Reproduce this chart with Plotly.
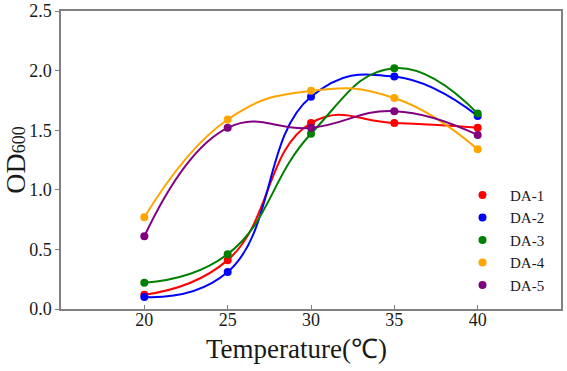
import plotly.graph_objects as go

temps = [20, 25, 30, 35, 40]
names = ["DA-1", "DA-2", "DA-3", "DA-4", "DA-5"]
da1 = [0.12, 0.41, 1.56, 1.56, 1.52]
da2 = [0.10, 0.31, 1.78, 1.95, 1.62]
da3 = [0.22, 0.46, 1.47, 2.02, 1.64]
da4 = [0.77, 1.59, 1.83, 1.77, 1.34]
da5 = [0.61, 1.52, 1.52, 1.66, 1.46]
series = [da1, da2, da3, da4, da5]
colors = ["#ff0000", "#0000ff", "#008000", "#ffa500", "#800080"]

FONT = "Liberation Serif"

fig = go.Figure()
for name, ys, c in zip(names, series, colors):
    fig.add_trace(go.Scatter(
        x=temps, y=ys, mode="lines", showlegend=False,
        line=dict(color=c, width=2, shape="spline", smoothing=1.3),
        hoverinfo="skip"))
for name, ys, c in zip(names, series, colors):
    fig.add_trace(go.Scatter(
        x=temps, y=ys, mode="markers", name=name,
        marker=dict(color=c, size=8)))

axis_common = dict(
    showline=True, linecolor="#808080", linewidth=1.5, mirror=True,
    showgrid=False, zeroline=False, automargin=False,
    tickfont=dict(family=FONT, size=18, color="#1a1a1a"),
    tickcolor="#808080", ticklen=4, tickwidth=1,
)

fig.update_layout(
    width=567, height=371,
    margin=dict(l=61, r=6, t=11, b=62, autoexpand=False),
    plot_bgcolor="white", paper_bgcolor="white",
    font=dict(family=FONT, color="#1a1a1a"),
    xaxis=dict(
        range=[15, 45], tickvals=temps, ticks="inside", ticklabelstandoff=-6,
        **axis_common),
    yaxis=dict(
        range=[0, 2.5], tickvals=[0, 0.5, 1.0, 1.5, 2.0, 2.5], tickformat=".1f", ticks="outside",
        title=dict(text='OD<span style="font-size:18px">600</span>',
                   font=dict(family=FONT, size=28, color="#1a1a1a"), standoff=6),
        **axis_common),
    legend=dict(
        x=0.788, y=0.437, xanchor="left", yanchor="top",
        bgcolor="rgba(0,0,0,0)", borderwidth=0,
        font=dict(family=FONT, size=15, color="#1a1a1a"),
        itemwidth=45,
    ),
    annotations=[dict(
        text="Temperature(℃)", xref="paper", yref="paper",
        x=0.47, y=-0.134, xanchor="center", yanchor="middle", showarrow=False,
        font=dict(family=FONT, size=27, color="#1a1a1a"),
    )],
)

fig.write_html("out.html")
